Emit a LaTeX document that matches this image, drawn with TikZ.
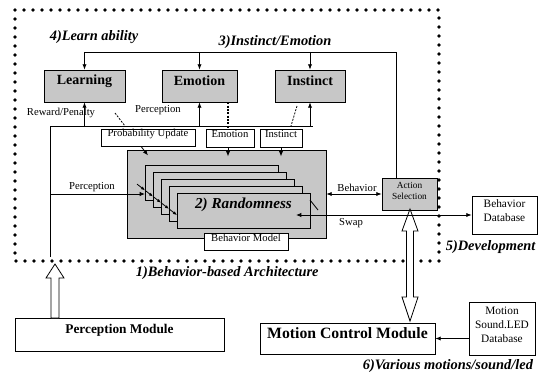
\documentclass[tikz,border=0pt]{standalone}
\usepackage{fontspec}
\setmainfont{Liberation Serif}
\usetikzlibrary{arrows.meta,fit,calc}

\begin{document}
\begin{tikzpicture}[x=0.75pt,y=-0.75pt,line width=0.6pt,
  >={Latex[length=4pt,width=3.2pt]},
  module/.style={draw,fill=black!22,inner sep=0pt,font=\bfseries\fontsize{10.5}{12}\selectfont},
  modwhite/.style={draw,fill=white,inner sep=0pt,font=\bfseries\fontsize{10}{12}\selectfont},
  tagbox/.style={draw,fill=white,inner sep=0pt,align=center,font=\fontsize{8}{9.5}\selectfont},
  lbltext/.style={font=\fontsize{8}{9.5}\selectfont},
  heading/.style={font=\bfseries\itshape\fontsize{10.8}{12}\selectfont},
  dotframe/.style={line width=2.7pt,dash pattern=on 0pt off 6.75pt,line cap=round},
  hollow/.style={draw,fill=white,line join=miter},
  pointer/.style={dash pattern=on 1.5pt off 1pt}]

\useasboundingbox (0,0) rectangle (546,378);

% 1) behavior-based architecture frame
\draw[dotframe] (15,10) rectangle (439,261);
\node[heading,anchor=west] (archlbl) at (131,273) {1)Behavior-based Architecture};
\node[heading] (learnlbl) at (94,37) {4)Learn ability};
\node[heading] (instlbl) at (275,42) {3)Instinct/Emotion};

% upper modules
\node[module,fit={(44,70) (125,102)}] (learn) {Learning};
\node[module,fit={(162,70) (237,102)}] (emo) {Emotion};
\node[module,fit={(275,70) (345,102)}] (inst) {Instinct};

% inputs of the behavior model
\node[tagbox,fit={(101,129) (195,146)}] (prob) {Probability Update};
\node[tagbox,fit={(206,129) (254,147)}] (emotag) {Emotion};
\node[tagbox,fit={(260,129) (302,147)}] (insttag) {Instinct};

% behavior model, stacked layers
\node[draw,fill=black!22,inner sep=0pt,fit={(127,150) (326,238)}] (bmodel) {};
\foreach \k in {4,...,1}
  \draw[fill=black!20] (177-8*\k,193-7*\k) rectangle (310-8*\k,228-7*\k);
\node[module,font=\bfseries\itshape\fontsize{11.4}{13}\selectfont,fit={(177,193) (310,228)}] (rand) {2) Randomness};
\foreach \k in {4,...,0}
  \draw[->,>={Latex[length=3pt,width=2.4pt]}] (169-8*\k,208.9-6.2*\k) -- (177-8*\k,215.1-6.2*\k);
\node[tagbox,fit={(204,233) (288,250)}] (bmlbl) {Behavior Model};

\node[module,font=\fontsize{7}{8.5}\selectfont,align=center,fit={(382,178) (437,210)}] (act) {Action\\Selection};
\node[tagbox,font=\fontsize{8.5}{10.5}\selectfont,fit={(472,196) (537,234)}] (bdb) {Behavior\\Database};

% lower modules
\node[modwhite,fit={(15,318) (224,351)}] (percep) {Perception Module};
\node[modwhite,font=\bfseries\fontsize{11.8}{13}\selectfont,fit={(260,323) (435,354)}] (motion) {Motion Control Module};
\node[tagbox,font=\fontsize{8.5}{10.8}\selectfont,fit={(469,302) (535,355)}] (mdb) {Motion\\Sound.LED\\Database};
\node[heading,anchor=west] (devlbl) at (441,247) {5)Development};
\node[heading] (varlbl) at (448,366) {6)Various motions/sound/led};

% instinct/emotion bus
\coordinate (bus) at (0,52);
\coordinate (busR) at (396,52);
\draw (learn.north |- bus) -- (busR) -- (busR |- act.north);
\draw[->] (learn.north |- bus) -- (learn.north);
\draw[->] (emo.north |- bus) -- (emo.north);
\draw[->] (inst.north |- bus) -- (inst.north);

% perception bus
\coordinate (pfoot) at (50,257);
\coordinate (pbus) at (50,126);
\coordinate (pbusR) at (313,126);
\draw (pfoot) -- (pbus) -- (pbusR);
\draw[->] (learn.south |- pbus) -- (learn.south);
\draw[->] (emo.south |- pbus) -- (emo.south);
\draw[->] (inst.south |- pbus) -- (inst.south);
\node[lbltext] (rewlbl) at (61,113) {Reward/Penalty};
\node[lbltext] (perlbl) at (158,110) {Perception};
\draw[pointer] (115,113) -- (125,126);
\draw[pointer] (297,106) -- (291,126);
\draw[pointer,line width=1pt] ($(emo.south)+(28.5,0)$) -- ($(emotag.north)+(-2,0)$);

\coordinate (pin) at (50,194);
\draw[->] (pin) -- (145,194);
\node[lbltext] (perlbl2) at (92,187) {Perception};

\draw[->] ($(prob.south)+(-7,0)$) -- ++(7,9);
\draw[->] ($(emotag.south)+(-2,0)$) -- ++(0,9);
\draw[->] (insttag.south) -- ++(0,9);

% behavior / swap
\draw[<->] (bmodel.east |- act.west) -- (act.west);
\node[lbltext] (behlbl) at (357,188) {Behavior};
\draw (310,200) -- (318,210);

% hollow arrows
\draw[hollow] (410,209) -- (418,231) -- (413.5,231) -- (413.5,297) -- (418,297) -- (410,321)
  -- (402,297) -- (406.5,297) -- (406.5,231) -- (402,231) -- cycle;
\draw[hollow] (55,264) -- (64,278) -- (59,278) -- (59,318) -- (51,318) -- (51,278) -- (46,278) -- cycle;

\coordinate (swapL) at (296,215);
\draw[<->] (swapL) -- (swapL -| bdb.west);
\node[lbltext] (swaplbl) at (351,223) {Swap};

\draw[->] (mdb.west |- motion.east) -- (motion.east);

\end{tikzpicture}
\end{document}
